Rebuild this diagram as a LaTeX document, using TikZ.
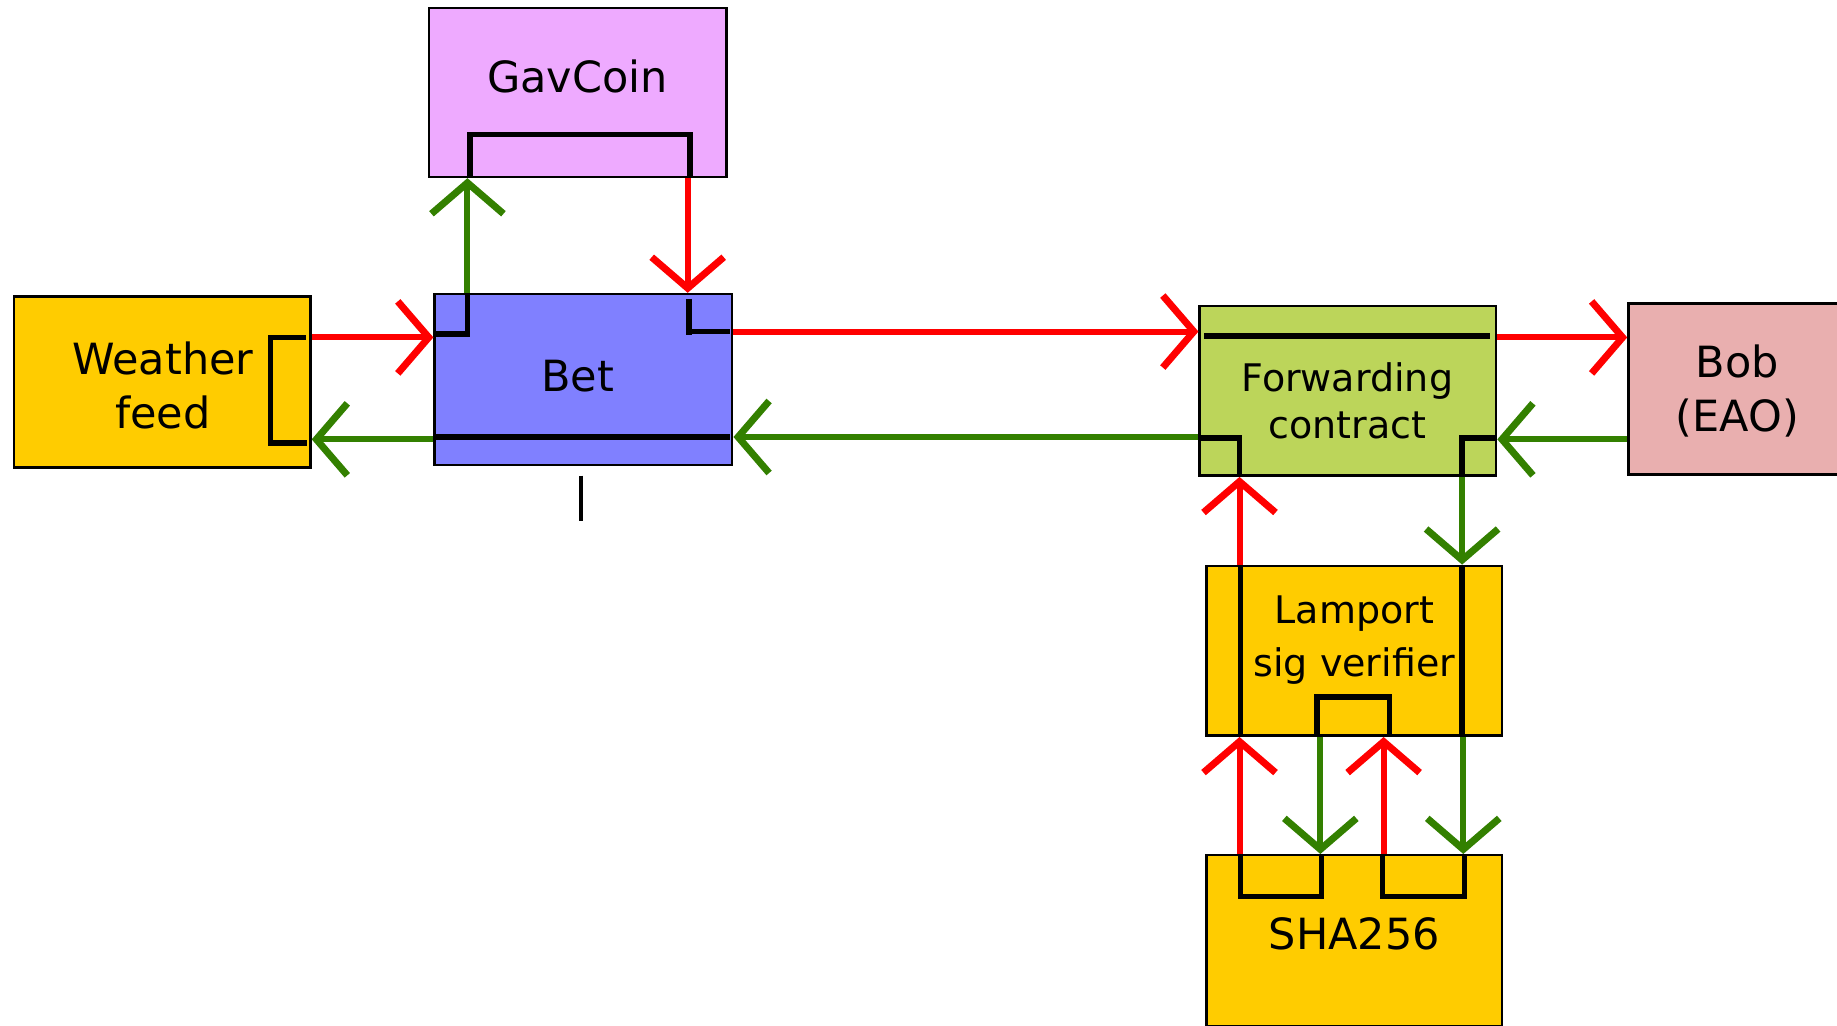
\documentclass[tikz,border=0pt]{standalone}
\usepackage{fontspec}
\setmainfont{DejaVu Sans}
\usetikzlibrary{arrows.meta}
\definecolor{gavc}{RGB}{238,170,255}
\definecolor{yelc}{RGB}{255,204,0}
\definecolor{betc}{RGB}{128,128,255}
\definecolor{fwdc}{RGB}{188,213,90}
\definecolor{bobc}{RGB}{233,175,175}
\definecolor{grn}{RGB}{51,128,0}
\definecolor{rd}{RGB}{255,0,0}
\tikzset{
  bx/.style={draw=black, line width=2.5pt, rectangle, inner sep=0pt},
  big/.style={font=\fontsize{43}{54}\selectfont, align=center, inner sep=0pt},
  small/.style={font=\fontsize{38}{47}\selectfont, align=center, inner sep=0pt},
  smallwide/.style={font=\fontsize{38}{53}\selectfont, align=center, inner sep=0pt},
  wire/.style={line width=5.5pt, black},
  conn/.style={line width=6pt, -{Straight Barb[length=31pt,width=72pt,line width=7pt]}},
  redc/.style={conn, rd},
  grnc/.style={conn, grn},
}
\begin{document}
\begin{tikzpicture}[x=1.1716pt, y=-1.1716pt]
\useasboundingbox (0,0) rectangle (1568,875);
\clip (0,0) rectangle (1568,875);
% boxes
\node[bx, fill=gavc, minimum width={254*1.1716pt}, minimum height={144*1.1716pt}] (gav) at (493,79) {};
\node[bx, fill=yelc, minimum width={253*1.1716pt}, minimum height={146*1.1716pt}] (wf) at (138.5,326) {};
\node[bx, fill=betc, minimum width={254*1.1716pt}, minimum height={146*1.1716pt}] (bet) at (498,324) {};
\node[bx, fill=fwdc, minimum width={253*1.1716pt}, minimum height={145*1.1716pt}] (fwd) at (1150.5,333.5) {};
\node[bx, fill=bobc, minimum width={270*1.1716pt}, minimum height={146*1.1716pt}] (bob) at (1525,332) {};
\node[bx, fill=yelc, minimum width={252*1.1716pt}, minimum height={145*1.1716pt}] (lam) at (1156,555.5) {};
\node[bx, fill=yelc, minimum width={252*1.1716pt}, minimum height={146*1.1716pt}] (sha) at (1156,803) {};
% labels
\node[big] (tgav) at (493,65) {GavCoin};
\node[big] (twf) at (139,329) {Weather\\feed};
\node[big] (tbet) at (493,321) {Bet};
\node[small] (tfwd) at (1150,342) {Forwarding\\contract};
\node[big] (tbob) at (1483,334) {Bob\\(EAO)};
\node[smallwide] (tlam) at (1156,546) {Lamport\\sig verifier};
\node[big] (tsha) at (1156,797) {SHA256};
% inner wiring
\draw[wire] (261,288) -- (231,288) -- (231,378) -- (262,378);
\draw[wire] (401,151) -- (401,115) -- (589,115) -- (589,151);
\draw[wire] (399,251) -- (399,285) -- (372,285);
\draw[wire] (588,255) -- (588,286);
\draw[wire] (591,283) -- (623,283);
\draw[wire] (371,373) -- (623,373);
\draw[wire] (1028,287) -- (1272,287);
\draw[wire] (1025,374) -- (1058,374) -- (1058,406);
\draw[wire] (1277,374) -- (1248,374) -- (1248,406);
\draw[wire] (1059,483) -- (1059,628);
\draw[wire] (1248,483) -- (1248,628);
\draw[wire] (1124,628) -- (1124,595) -- (1186,595) -- (1186,628);
\draw[wire] (1059,730) -- (1059,765) -- (1128,765) -- (1128,730);
\draw[wire] (1180,730) -- (1180,765) -- (1250,765) -- (1250,730);
\draw[line width=3.5pt] (496,406) -- (496,445);
% connectors
\draw[redc] (wf.east |- 0,288) -- (bet.west |- 0,288);
\draw[grnc] (bet.west |- 0,375) -- (wf.east |- 0,375);
\draw[grnc] (bet.north -| 399,0) -- (gav.south -| 399,0);
\draw[redc] (gav.south -| 587,0) -- (bet.north -| 587,0);
\draw[redc] (bet.east |- 0,283) -- (fwd.west |- 0,283);
\draw[grnc] (fwd.west |- 0,373) -- (bet.east |- 0,373);
\draw[redc] (fwd.east |- 0,288) -- (bob.west |- 0,288);
\draw[grnc] (bob.west |- 0,375) -- (fwd.east |- 0,375);
\draw[redc] (lam.north -| 1058,0) -- (fwd.south -| 1058,0);
\draw[grnc] (fwd.south -| 1248,0) -- (lam.north -| 1248,0);
\draw[redc] (sha.north -| 1058,0) -- (lam.south -| 1058,0);
\draw[grnc] (lam.south -| 1127,0) -- (sha.north -| 1127,0);
\draw[redc] (sha.north -| 1181,0) -- (lam.south -| 1181,0);
\draw[grnc] (lam.south -| 1249,0) -- (sha.north -| 1249,0);
\end{tikzpicture}
\end{document}
